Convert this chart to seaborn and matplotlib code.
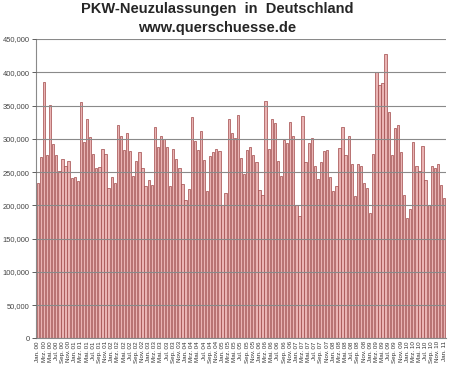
import matplotlib
matplotlib.use("Agg")
import matplotlib.pyplot as plt
import numpy as np
import pandas as pd
import seaborn as sns
from matplotlib.ticker import FuncFormatter, MultipleLocator

# Monthly new car registrations (in thousands), Jan 2000 .. Jan 2011
y2000 = [234, 272.5, 385.5, 275, 351, 292.5, 276, 251.5, 270, 259, 266, 240.5]
y2001 = [242, 236, 355.5, 295, 329.5, 302, 276.5, 256, 257.5, 284, 276.5, 226]
y2002 = [243, 233, 321.5, 303.5, 282.5, 308, 282, 244, 266, 280.5, 256, 228.5]
y2003 = [238, 231, 318, 287, 304.5, 299, 287.5, 228.5, 285, 269, 256, 231.5]
y2004 = [208.5, 224, 332.5, 297, 282.5, 311, 267.5, 221, 274, 280.5, 284.5, 281]
y2005 = [201, 218.5, 330.5, 308.5, 300.5, 336, 270.5, 246.5, 283.5, 288, 275, 265]
y2006 = [223, 215.5, 357.5, 284.5, 329.5, 323.5, 266, 244.5, 297.5, 293, 325.5, 303.5]
y2007 = [200, 183.5, 334.5, 264.5, 293.5, 300.5, 258.5, 239.5, 265.5, 281.5, 283.5, 242]
y2008 = [221, 228.5, 286.5, 318, 275, 304, 262, 214, 261.5, 258.5, 233, 225.5]
y2009 = [189, 277, 401, 380.5, 384.5, 427.5, 340, 275, 316.5, 321, 279.5, 215]
y2010 = [181, 194.5, 294.5, 259, 251, 288.5, 237.5, 200, 259.5, 256.5, 262, 230]
y2011 = [210.5]

month_names = ["Jan", "Feb", "Mrz", "Apr", "Mai", "Jun", "Jul", "Aug", "Sep", "Okt", "Nov", "Dez"]
years = ["00", "01", "02", "03", "04", "05", "06", "07", "08", "09", "10", "11"]

values_k = (y2000 + y2001 + y2002 + y2003 + y2004 + y2005 + y2006 + y2007
            + y2008 + y2009 + y2010 + y2011)
values = [v * 1000 for v in values_k]
labels = [f"{month_names[i % 12]}. {years[i // 12]}" for i in range(len(values))]

df = pd.DataFrame({"Monat": labels, "Zulassungen": values})

sns.set_style("white")
plt.rcParams["font.family"] = ["Liberation Sans", "DejaVu Sans"]

fig = plt.figure(figsize=(4.5, 3.73), dpi=100)
ax = fig.add_axes([0.08, 0.0925, 0.911, 0.803])

sns.barplot(data=df, x="Monat", y="Zulassungen", color="#EAB4B4",
            edgecolor="#A04848", linewidth=0.5, width=0.74, saturation=1,
            ax=ax)

ax.set_ylim(0, 450000)
ax.set_xlim(-0.6, len(values) - 0.4)
ax.yaxis.set_major_locator(MultipleLocator(50000))
ax.yaxis.set_major_formatter(FuncFormatter(lambda v, p: f"{int(v):,}"))
ax.set_axisbelow(False)
ax.yaxis.grid(True, color="#8a8a8a", linewidth=0.8)
ax.xaxis.grid(False)

ax.set_xticks(range(0, len(values), 2))
ax.set_xticklabels(labels[::2], rotation=90, fontsize=4.5, color="#333333")
ax.tick_params(axis="y", labelsize=5.4, colors="#444444", length=3, width=0.6,
               direction="out", left=True, pad=1.5)
ax.tick_params(axis="x", length=0, pad=2)

for s in ["top", "right"]:
    ax.spines[s].set_visible(False)
for s in ["left", "bottom"]:
    ax.spines[s].set_color("#8a8a8a")
    ax.spines[s].set_linewidth(0.8)

ax.set_xlabel("")
ax.set_ylabel("")

fig.text(0.482, 0.977, "PKW-Neuzulassungen  in  Deutschland", ha="center",
         va="center", fontsize=10.5, fontweight="bold")
fig.text(0.482, 0.926, "www.querschuesse.de", ha="center", va="center",
         fontsize=10.5, fontweight="bold")

fig.savefig("out.png", dpi=100)
